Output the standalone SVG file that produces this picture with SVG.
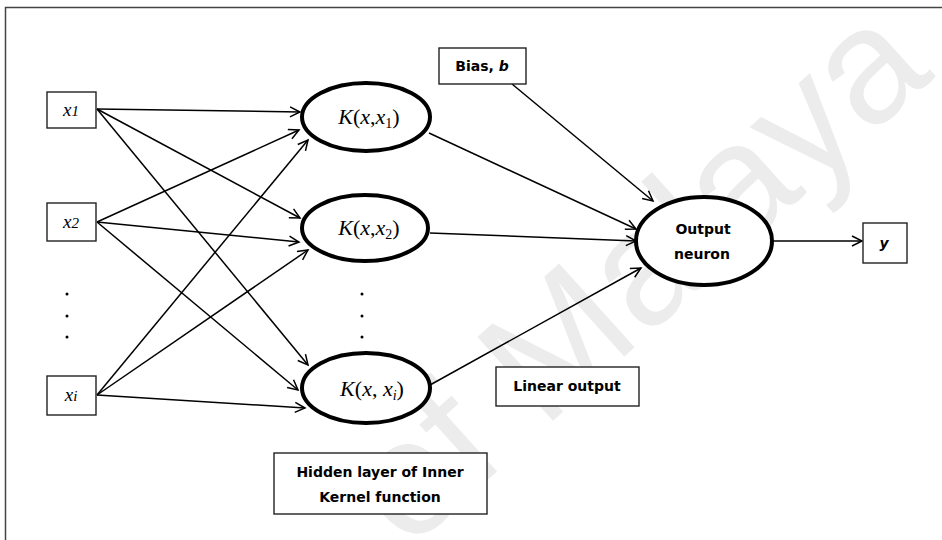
<svg xmlns="http://www.w3.org/2000/svg" width="942" height="540" viewBox="0 0 942 540">
<style>
.wm{font-family:"Liberation Sans","DejaVu Sans",sans-serif;font-size:164px;fill:#ececec}
.box{fill:#fff;stroke:#222;stroke-width:1.4}
.ell{fill:#fff;stroke:#000;stroke-width:4}
.lbl{font-family:"DejaVu Sans",sans-serif;font-weight:bold;font-size:14px;fill:#000;text-anchor:middle}
.math{font-family:"Liberation Serif","Times New Roman",serif;font-size:22px;fill:#000;text-anchor:middle}
.inp{font-family:"Liberation Serif","Times New Roman",serif;font-style:italic;font-size:19px;fill:#000;text-anchor:middle}
.it{font-style:italic}
.dot{fill:#000}
.con line{stroke:#000;stroke-width:1.5;marker-end:url(#arr)}
</style>
<defs>
<marker id="arr" markerUnits="userSpaceOnUse" markerWidth="14" markerHeight="14" refX="11" refY="6" orient="auto">
<path d="M1,1 L11,6 L1,11" fill="none" stroke="#000" stroke-width="1.5"/>
</marker>
</defs>
<rect width="942" height="540" fill="#fff"/>
<text class="wm" x="0" y="0" dominant-baseline="central" text-anchor="middle" transform="translate(634,272) rotate(-42)">of Malaya</text>
<path d="M5.5,540 V7.5 H942" fill="none" stroke="#444" stroke-width="1.5"/>

<g class="con" id="connectors">
<line x1="97" y1="109" x2="300" y2="112"/>
<line x1="97" y1="109" x2="300" y2="218"/>
<line x1="97" y1="109" x2="308" y2="365"/>
<line x1="97" y1="222" x2="299" y2="130"/>
<line x1="97" y1="222" x2="299" y2="242"/>
<line x1="97" y1="222" x2="298" y2="390"/>
<line x1="97" y1="395" x2="308" y2="140"/>
<line x1="97" y1="395" x2="308" y2="250"/>
<line x1="97" y1="395" x2="305" y2="408"/>
<line x1="429" y1="133" x2="636" y2="229"/>
<line x1="430" y1="233" x2="636" y2="241"/>
<line x1="430" y1="385" x2="641" y2="268"/>
<line x1="512" y1="84" x2="653" y2="201"/>
<line x1="773" y1="241" x2="862" y2="241"/>
</g>

<g id="x1"><rect class="box" x="47" y="92" width="49" height="36"/><text class="inp" x="71" y="116">x<tspan font-size="15">1</tspan></text></g>
<g id="x2"><rect class="box" x="47" y="203" width="49" height="38"/><text class="inp" x="71" y="228">x<tspan font-size="15">2</tspan></text></g>
<g id="xi"><rect class="box" x="47" y="376" width="49" height="39"/><text class="inp" x="71" y="401">x<tspan font-size="15">i</tspan></text></g>
<g id="input-dots"><circle class="dot" cx="67" cy="294" r="1.5"/><circle class="dot" cx="67" cy="316" r="1.5"/><circle class="dot" cx="67" cy="337" r="1.5"/></g>

<g id="k1"><ellipse class="ell" cx="366" cy="117" rx="64" ry="34"/><text class="math" x="369" y="124"><tspan class="it">K</tspan>(<tspan class="it">x</tspan>,<tspan class="it">x</tspan><tspan font-size="14" dy="4">1</tspan><tspan dy="-4">)</tspan></text></g>
<g id="k2"><ellipse class="ell" cx="365" cy="228" rx="63" ry="33"/><text class="math" x="369" y="235"><tspan class="it">K</tspan>(<tspan class="it">x</tspan>,<tspan class="it">x</tspan><tspan font-size="14" dy="4">2</tspan><tspan dy="-4">)</tspan></text></g>
<g id="k-dots"><circle class="dot" cx="362" cy="294" r="1.5"/><circle class="dot" cx="362" cy="316" r="1.5"/><circle class="dot" cx="362" cy="337" r="1.5"/></g>
<g id="ki"><ellipse class="ell" cx="366" cy="388" rx="64" ry="35"/><text class="math" x="372" y="396"><tspan class="it">K</tspan>(<tspan class="it">x</tspan>, <tspan class="it">x</tspan><tspan class="it" font-size="14" dy="4">i</tspan><tspan dy="-4">)</tspan></text></g>

<g id="output"><ellipse class="ell" cx="704" cy="241" rx="68" ry="44"/><text class="lbl" x="703" y="234" font-size="15">Output</text><text class="lbl" x="702" y="259" font-size="15">neuron</text></g>
<g id="bias"><rect class="box" x="439" y="48" width="87" height="36"/><text class="lbl" x="482" y="71" font-size="13">Bias, <tspan class="it">b</tspan></text></g>
<g id="y"><rect class="box" x="863" y="223" width="44" height="40"/><text class="lbl it" x="884" y="248">y</text></g>
<g id="linear"><rect class="box" x="496" y="367" width="143" height="39"/><text class="lbl" x="567" y="391">Linear output</text></g>
<g id="hidden"><rect class="box" x="274" y="453" width="213" height="61"/><text class="lbl" x="380" y="477">Hidden layer of Inner</text><text class="lbl" x="380" y="502">Kernel function</text></g>
</svg>
